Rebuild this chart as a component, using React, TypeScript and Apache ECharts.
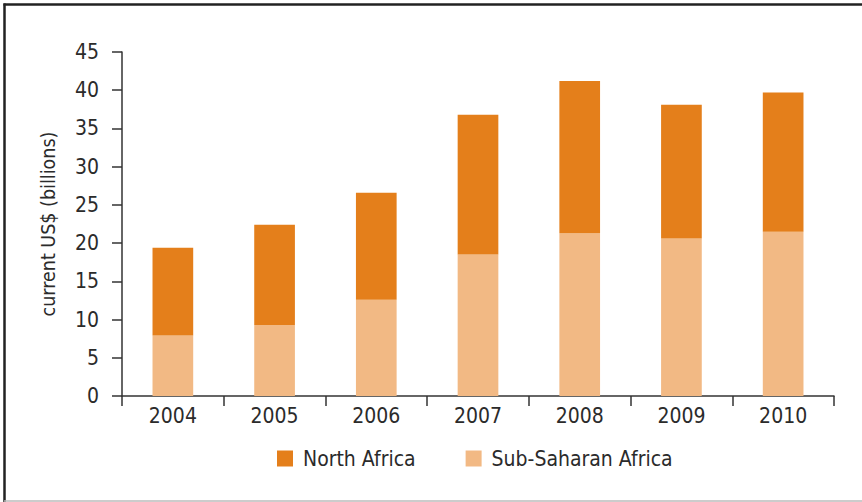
import React, { useEffect, useRef } from "react";
import * as echarts from "echarts";

const years = ["2004", "2005", "2006", "2007", "2008", "2009", "2010"];
const subSaharan = [7.9, 9.3, 12.6, 18.5, 21.3, 20.6, 21.5];
const northAfrica = [11.5, 13.1, 14.0, 18.3, 19.9, 17.5, 18.2];
const yTicks = { min: 0, max: 45, interval: 5 };

const FONT = "'Liberation Sans Narrow', 'DejaVu Sans Condensed', 'Liberation Sans', sans-serif";
const TEXT = "#2b2b2b";
const AXIS = "#333333";
const DARK = "#E47F1B";
const LIGHT = "#F2B984";

export default function App() {
  const ref = useRef<HTMLDivElement>(null);
  useEffect(() => {
    if (!ref.current) return;
    const chart = echarts.init(ref.current, null, { renderer: "svg" });
    chart.setOption({
      animation: false,
      backgroundColor: "#ffffff",
      textStyle: { fontFamily: FONT },
      grid: { left: 122, right: 28, top: 52, bottom: 106, containLabel: false },
      legend: {
        data: ["North Africa", "Sub-Saharan Africa"],
        left: 277,
        top: 448,
        padding: 0,
        itemWidth: 16,
        itemHeight: 16,
        itemGap: 50,
        icon: "rect",
        textStyle: { fontFamily: FONT, fontSize: 21, color: TEXT, padding: [0, 0, 0, 5] },
      },
      xAxis: {
        type: "category",
        data: years,
        axisLine: { show: true, lineStyle: { color: AXIS, width: 1.5 } },
        axisTick: { show: true, alignWithLabel: false, length: 10, lineStyle: { color: AXIS, width: 1.5 } },
        axisLabel: { fontFamily: FONT, fontSize: 21, color: TEXT, margin: 9 },
        splitLine: { show: false },
      },
      yAxis: {
        type: "value",
        min: yTicks.min,
        max: yTicks.max,
        interval: yTicks.interval,
        name: "current US$ (billions)",
        nameLocation: "middle",
        nameGap: 64,
        nameTextStyle: { fontFamily: FONT, fontSize: 19.5, color: TEXT },
        axisLine: { show: true, lineStyle: { color: AXIS, width: 1.5 } },
        axisTick: { show: true, length: 10, lineStyle: { color: AXIS, width: 1.5 } },
        axisLabel: { fontFamily: FONT, fontSize: 21, color: TEXT, margin: 23 },
        splitLine: { show: false },
      },
      series: [
        {
          name: "Sub-Saharan Africa",
          type: "bar",
          stack: "total",
          data: subSaharan,
          barWidth: "40%",
          itemStyle: { color: LIGHT },
        },
        {
          name: "North Africa",
          type: "bar",
          stack: "total",
          data: northAfrica,
          barWidth: "40%",
          itemStyle: { color: DARK },
        },
      ],
      graphic: [
        { type: "line", shape: { x1: 3.5, y1: 4.5, x2: 862, y2: 4.5 }, style: { stroke: "#222222", lineWidth: 2.5 } },
        { type: "line", shape: { x1: 4.5, y1: 3.5, x2: 4.5, y2: 502 }, style: { stroke: "#222222", lineWidth: 2.5 } },
        { type: "line", shape: { x1: 4, y1: 501, x2: 862, y2: 501 }, style: { stroke: "#bbbbbb", lineWidth: 1.5 } },
      ],
    });
    return () => chart.dispose();
  }, []);
  return (
    <div
      ref={ref}
      style={{ position: "absolute", left: 0, top: 0, width: 862, height: 502 }}
    />
  );
}
